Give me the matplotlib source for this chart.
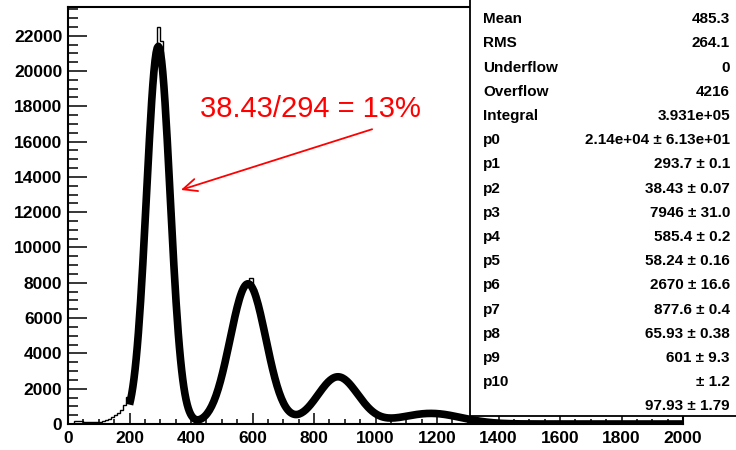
import numpy as np
import matplotlib
matplotlib.use("Agg")
import matplotlib.pyplot as plt
from matplotlib.patches import Rectangle
from matplotlib.ticker import MultipleLocator

# histogram contents, 10-wide bins from 0 to 2000
bin_edges = np.arange(0, 2001, 10)
counts_0_200 = [0, 0, 190, 185, 150, 120, 115, 115, 120, 125,
                140, 160, 200, 280, 380, 500, 640, 820, 1050, 1550]
counts_200_400 = [1600, 2700, 4350, 6650, 9600, 12900, 16200, 19000, 21000, 22500,
                  21700, 18400, 15400, 12000, 8790, 6000, 3830, 2300, 1300, 700]
counts_400_600 = [390, 260, 240, 310, 445, 652, 940, 1320, 1800, 2385,
                  3065, 3830, 4640, 5465, 6250, 6940, 7480, 7830, 8100, 8270]
counts_600_800 = [7650, 6990, 6310, 5533, 4712, 3900, 3138, 2457, 1879, 1411,
                  1052, 796, 632, 550, 539, 588, 690, 835, 1019, 1231]
counts_800_1000 = [1463, 1705, 1944, 2167, 2363, 2518, 2622, 2668, 2653, 2579,
                   2461, 2289, 2082, 1855, 1617, 1383, 1163, 965, 791, 650]
counts_1000_1200 = [535, 449, 391, 355, 338, 337, 349, 368, 394, 424,
                    455, 486, 516, 543, 565, 582, 594, 600, 600, 594]
counts_1200_1400 = [582, 564, 541, 513, 482, 448, 412, 375, 338, 302,
                    266, 240, 215, 200, 185, 175, 170, 165, 160, 155]
counts_1400_2000 = [150, 148, 146, 145, 143, 140, 138, 136, 135, 133,
                    130, 128, 126, 125, 123, 120, 118, 116, 115, 113,
                    110, 108, 106, 105, 103, 100, 98, 96, 95, 93,
                    90, 88, 86, 85, 83, 80, 78, 76, 75, 73,
                    70, 68, 66, 65, 63, 60, 58, 56, 55, 53,
                    50, 48, 46, 45, 43, 40, 38, 36, 35, 33]
counts = (counts_0_200 + counts_200_400 + counts_400_600 + counts_600_800 +
          counts_800_1000 + counts_1000_1200 + counts_1200_1400 + counts_1400_2000)

# fit: sum of four gaussians (p0..p11)
fit_amp = [21400, 7946, 2670, 601]
fit_mean = [293.7, 585.4, 877.6, 1180]
fit_sigma = [38.43, 58.24, 65.93, 97.93]
fit_range = (200, 2000)

stat_labels = ['Entries', 'Mean', 'RMS', 'Underflow', 'Overflow', 'Integral',
               'p0', 'p1', 'p2', 'p3', 'p4', 'p5', 'p6', 'p7', 'p8', 'p9', 'p10', '']
stat_values = ['397316', '485.3', '264.1', '0', '4216', '3.931e+05',
               '2.14e+04 ± 6.13e+01', '293.7 ± 0.1', '38.43 ± 0.07', '7946 ± 31.0',
               '585.4 ± 0.2', '58.24 ± 0.16', '2670 ± 16.6', '877.6 ± 0.4',
               '65.93 ± 0.38', '601 ± 9.3', '± 1.2', '97.93 ± 1.79']

note_text = '38.43/294 = 13%'

W, H = 736, 450
fig = plt.figure(figsize=(W / 100, H / 100), dpi=100)
ax = fig.add_axes([68 / W, 1 - 424 / H, (683 - 68) / W, (424 - 7) / H])

ax.stairs(counts, bin_edges, color='black', lw=1.0)

x = np.linspace(fit_range[0], fit_range[1], 500)
y = np.zeros_like(x)
for a, m, s in zip(fit_amp, fit_mean, fit_sigma):
    y += a * np.exp(-0.5 * ((x - m) / s) ** 2)
ax.plot(x, y, color='black', lw=5.5, solid_capstyle='butt')

ax.set_xlim(0, 2000)
ax.set_ylim(0, max(counts) * 1.05)

ax.xaxis.set_major_locator(MultipleLocator(200))
ax.xaxis.set_minor_locator(MultipleLocator(50))
ax.yaxis.set_major_locator(MultipleLocator(2000))
ax.yaxis.set_minor_locator(MultipleLocator(500))
ax.tick_params(axis='both', which='both', direction='in', width=1.1, color='black')
ax.tick_params(axis='x', which='major', length=8, pad=5)
ax.tick_params(axis='x', which='minor', length=3.6)
ax.tick_params(axis='y', which='major', length=14, pad=4)
ax.tick_params(axis='y', which='minor', length=7)
for lab in ax.get_xticklabels() + ax.get_yticklabels():
    lab.set_fontfamily('Liberation Sans')
    lab.set_fontweight('bold')
    lab.set_fontsize(12.5)
for sp in ax.spines.values():
    sp.set_linewidth(1.5)

# annotation
ax.annotate('', xy=(367, 13260), xytext=(989, 16700),
            arrowprops=dict(arrowstyle='->,head_length=1.0,head_width=0.45',
                            color='red', lw=1.3, shrinkA=0, shrinkB=0))
ax.text(429, 17850, note_text, color='red', fontsize=21,
        family='Liberation Sans', va='center', ha='left')

# stats box (top row is cut by the canvas edge, as in the original)
fig.patches.append(Rectangle((470 / W, 1 - 416 / H), 300 / W, 450 / H,
                             transform=fig.transFigure, facecolor='white',
                             edgecolor='black', lw=1.3, zorder=2))
for i, (lab, val) in enumerate(zip(stat_labels, stat_values)):
    py = -5 + 24.2 * i
    fig.text(483 / W, 1 - py / H, lab, fontsize=11, fontweight='bold',
             family='Liberation Sans', va='center', ha='left', zorder=3)
    fig.text(730 / W, 1 - py / H, val, fontsize=11, fontweight='bold',
             family='Liberation Sans', va='center', ha='right', zorder=3)

fig.savefig('out.png', dpi=100)
